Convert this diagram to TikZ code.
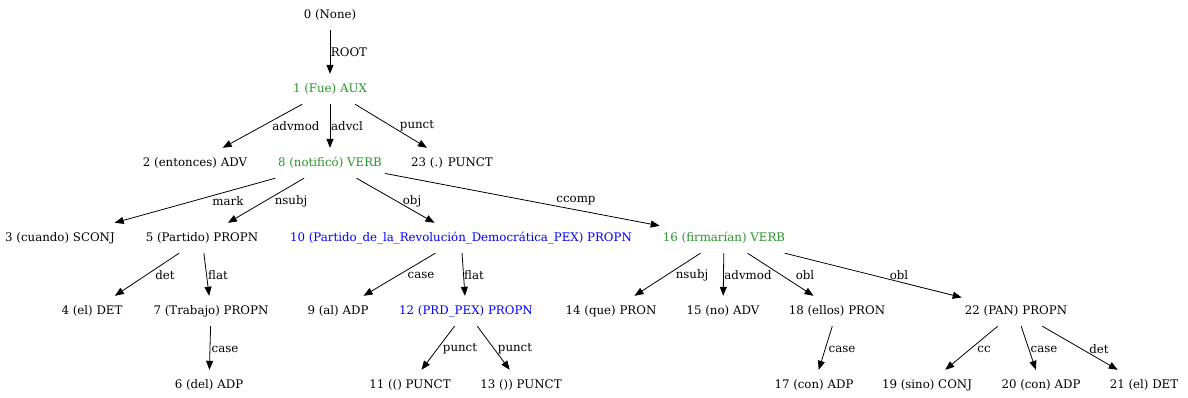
\documentclass[tikz,border=0pt]{standalone}
\usepackage{fontspec}
\setmainfont{DejaVu Serif}
\usetikzlibrary{arrows.meta}
\definecolor{headgreen}{RGB}{40,150,40}
\definecolor{nameblue}{RGB}{0,0,255}
\begin{document}
\begin{tikzpicture}[x=1pt,y=-1pt,
  tok/.style={inner xsep=3pt, inner ysep=0pt, minimum height=30pt,
              font=\fontsize{11.8}{14}\selectfont, text=black},
  verb/.style={tok, text=headgreen},
  prop/.style={tok, text=nameblue},
  dep/.style={draw=black, line width=0.8pt, -{Triangle[length=9pt,width=7pt]}},
  rel/.style={inner sep=0pt, font=\fontsize{11.8}{14}\selectfont}]
\fill[white] (0,0) rectangle (1188,397);
\useasboundingbox (0,0) rectangle (1188,397);

% tokens, row by row
\node[tok]  (n0)  at (330,15)  {0 (None)};
\node[verb] (n1)  at (330,89)  {1 (Fue) AUX};
\node[tok]  (n2)  at (195,163) {2 (entonces) ADV};
\node[verb] (n8)  at (330,163) {8 (notificó) VERB};
\node[tok]  (n23) at (452,163) {23 (.) PUNCT};
\node[tok]  (n3)  at (60,238)  {3 (cuando) SCONJ};
\node[tok]  (n5)  at (202,238) {5 (Partido) PROPN};
\node[prop] (n10) at (461,238) {10 (Partido\_de\_la\_Revolución\_Democrática\_PEX) PROPN};
\node[verb] (n16) at (724,238) {16 (firmarían) VERB};
\node[tok]  (n4)  at (92,311)  {4 (el) DET};
\node[tok]  (n7)  at (211,311) {7 (Trabajo) PROPN};
\node[tok]  (n9)  at (338,311) {9 (al) ADP};
\node[prop] (n12) at (466,311) {12 (PRD\_PEX) PROPN};
\node[tok]  (n14) at (611,311) {14 (que) PRON};
\node[tok]  (n15) at (723,311) {15 (no) ADV};
\node[tok]  (n18) at (837,311) {18 (ellos) PRON};
\node[tok]  (n22) at (1016,311) {22 (PAN) PROPN};
\node[tok]  (n6)  at (209,385) {6 (del) ADP};
\node[tok]  (n11) at (410,385) {11 (() PUNCT};
\node[tok]  (n13) at (521,385) {13 ()) PUNCT};
\node[tok]  (n17) at (814,385) {17 (con) ADP};
\node[tok]  (n19) at (927,385) {19 (sino) CONJ};
\node[tok]  (n20) at (1041,385) {20 (con) ADP};
\node[tok]  (n21) at (1144,385) {21 (el) DET};

% dependency arcs
\draw[dep] (n0) -- (n1);
\draw[dep] (n1) -- (n2);
\draw[dep] (n1) -- (n8);
\draw[dep] (n1) -- (n23);
\draw[dep] (n8) -- (n3);
\draw[dep] (n8) -- (n5);
\draw[dep] (n8) -- (n10);
\draw[dep] (n8) -- (n16);
\draw[dep] (n5) -- (n4);
\draw[dep] (n5) -- (n7);
\draw[dep] (n7) -- (n6);
\draw[dep] (n10) -- (n9);
\draw[dep] (n10) -- (n12);
\draw[dep] (n12) -- (n11);
\draw[dep] (n12) -- (n13);
\draw[dep] (n16) -- (n14);
\draw[dep] (n16) -- (n15);
\draw[dep] (n16) -- (n18);
\draw[dep] (n16) -- (n22);
\draw[dep] (n18) -- (n17);
\draw[dep] (n22) -- (n19);
\draw[dep] (n22) -- (n20);
\draw[dep] (n22) -- (n21);

% relation labels
\node[rel] (l01)   at (349,52)  {ROOT};
\node[rel] (l12)   at (296,126) {advmod};
\node[rel] (l18)   at (347,126) {advcl};
\node[rel] (l123)  at (417,126) {punct};
\node[rel] (l83)   at (228,201) {mark};
\node[rel] (l85)   at (291,201) {nsubj};
\node[rel] (l810)  at (412,201) {obj};
\node[rel] (l816)  at (576,201) {ccomp};
\node[rel] (l54)   at (165,275) {det};
\node[rel] (l57)   at (218,275) {flat};
\node[rel] (l76)   at (225,349) {case};
\node[rel] (l109)  at (421,275) {case};
\node[rel] (l1012) at (474,275) {flat};
\node[rel] (l1211) at (460,349) {punct};
\node[rel] (l1213) at (515,349) {punct};
\node[rel] (l1614) at (692,275) {nsubj};
\node[rel] (l1615) at (748,275) {advmod};
\node[rel] (l1618) at (805,275) {obl};
\node[rel] (l1622) at (899,275) {obl};
\node[rel] (l1817) at (842,349) {case};
\node[rel] (l2219) at (984,349) {cc};
\node[rel] (l2220) at (1044,349) {case};
\node[rel] (l2221) at (1099,349) {det};
\end{tikzpicture}
\end{document}
